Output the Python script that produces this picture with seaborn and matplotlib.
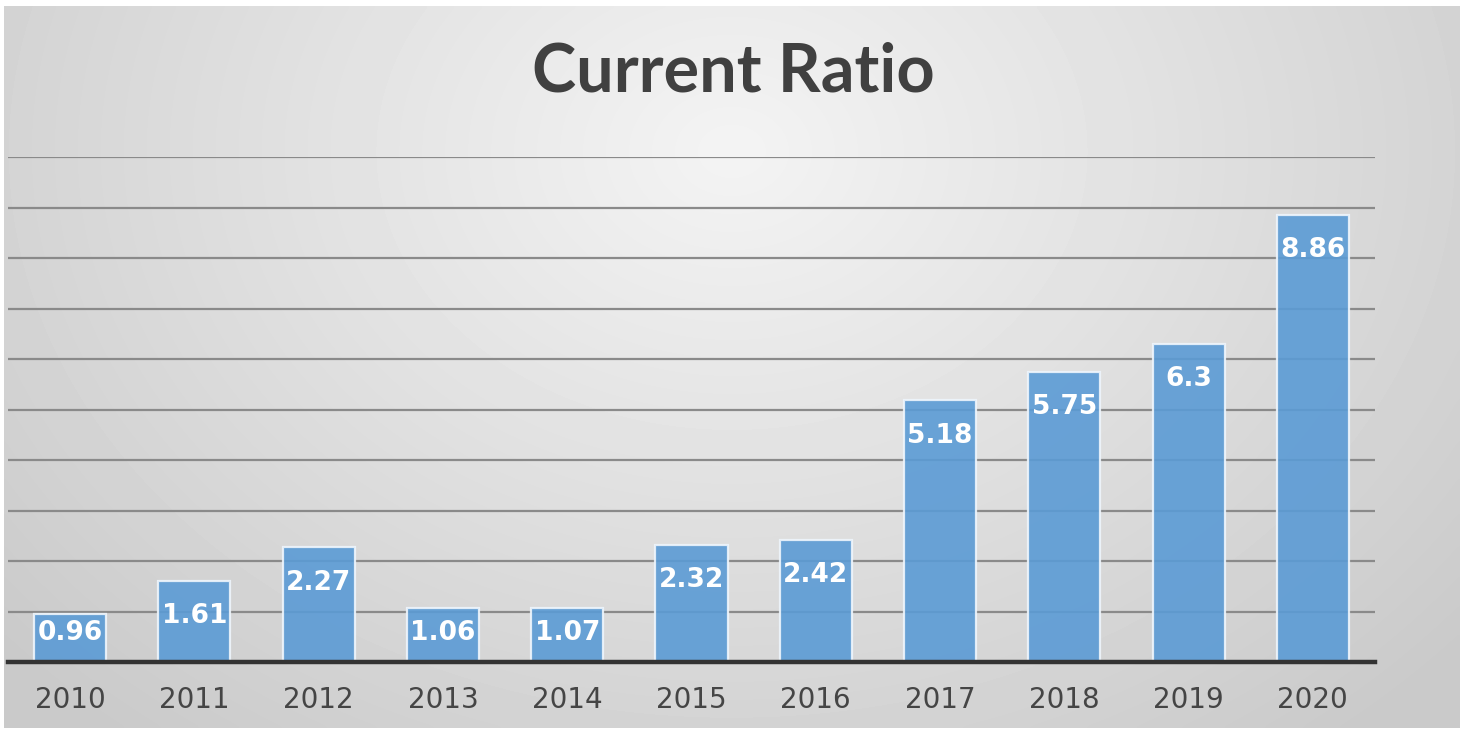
import numpy as np
import pandas as pd
import matplotlib
matplotlib.use('Agg')
import matplotlib.pyplot as plt
import seaborn as sns

anos = ['2010', '2011', '2012', '2013', '2014', '2015', '2016', '2017', '2018', '2019', '2020']
current_ratio = [0.96, 1.61, 2.27, 1.06, 1.07, 2.32, 2.42, 5.18, 5.75, 6.3, 8.86]
rotulos = ['0.96', '1.61', '2.27', '1.06', '1.07', '2.32', '2.42', '5.18', '5.75', '6.3', '8.86']

df = pd.DataFrame({'ano': anos, 'valor': current_ratio})

sns.set_style('white')
plt.rcParams['font.family'] = ['DejaVu Sans']

fig = plt.figure(figsize=(14.66, 7.30), dpi=100)
fig.patch.set_facecolor('white')

# fundo cinza com gradiente radial (mais claro no centro superior)
ax_bg = fig.add_axes([4 / 1466, 2 / 730, 1456 / 1466, 722 / 730], zorder=-1)
xx, yy = np.meshgrid(np.linspace(-1, 1, 400), np.linspace(-1, 1, 200))
dist = np.sqrt((xx * 0.95) ** 2 + ((yy + 0.6) * 0.6) ** 2)
tons = np.clip(0.955 - 0.13 * dist, 0.79, 0.955)
ax_bg.imshow(tons, cmap='gray', vmin=0, vmax=1, aspect='auto', origin='upper',
             interpolation='bicubic')
ax_bg.set_axis_off()

ax = fig.add_axes([8 / 1466, 68 / 730, 1367 / 1466, 505 / 730])
ax.patch.set_alpha(0)

sns.barplot(data=df, x='ano', y='valor', color='#5B9BD5', width=0.58,
            edgecolor='#eef5fc', linewidth=1.6, saturation=1, alpha=0.9, ax=ax)

ax.set_xlim(-0.5, 10.5)
ax.set_ylim(0, 10)
ax.set_yticks(np.arange(1, 11))
ax.yaxis.grid(True, color='#8a8a8a', linewidth=1.6)
ax.set_axisbelow(True)
ax.tick_params(axis='y', left=False, labelleft=False)
ax.tick_params(axis='x', bottom=False, pad=14, labelsize=20, labelcolor='#454545')
ax.set_xlabel('')
ax.set_ylabel('')
for lado in ['top', 'right', 'left']:
    ax.spines[lado].set_visible(False)
ax.spines['bottom'].set_color('#333333')
ax.spines['bottom'].set_linewidth(3.2)

for i, (v, txt) in enumerate(zip(current_ratio, rotulos)):
    ax.text(i, max(v - 0.7, 0.57), txt, ha='center', va='center',
            fontsize=19, fontweight='bold', color='white')

fig.text(0.5, 1 - 72 / 730, 'Current Ratio', ha='center', va='center',
         fontsize=48, fontweight='bold', color='#404040',
         family=['Lato', 'DejaVu Sans'])

fig.savefig('out.png', dpi=100, facecolor='white')
